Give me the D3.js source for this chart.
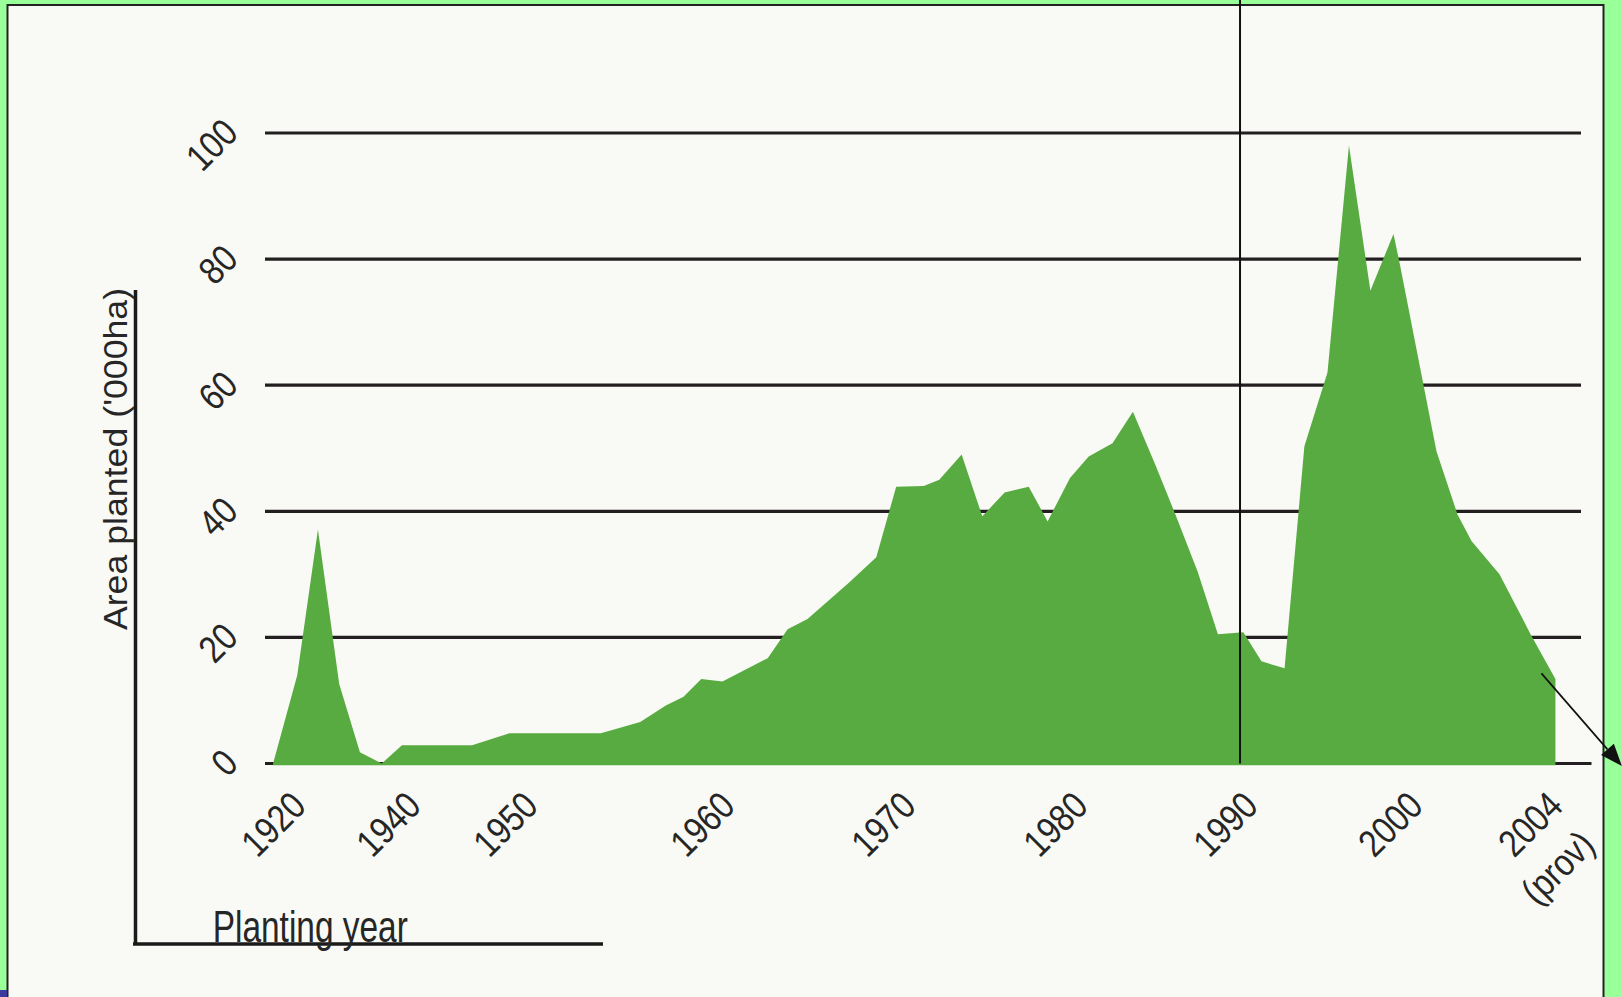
<!DOCTYPE html>
<html>
<head>
<meta charset="utf-8">
<script src="https://cdn.jsdelivr.net/npm/d3@7/dist/d3.min.js"></script>
<style>
  html, body { margin: 0; padding: 0; background: #99ff99; }
  svg { display: block; }
  text { font-family: "Liberation Sans", Arial, Helvetica, sans-serif; fill: #262626; }
</style>
</head>
<body>
<svg id="chart" width="1622" height="997"></svg>
<script>
// ---------------- DATA ----------------
// Planting year (as positioned on the chart's irregular axis) and area planted ('000 ha)
const plantingYears = [1917.4, 1921.6, 1925.2, 1928.9, 1932.5, 1936.3, 1939.8, 1945.9, 1949.1, 1954.1,
  1956.1, 1957.4, 1958.3, 1959.2, 1960.3, 1961.5, 1962.8, 1963.9, 1965.0, 1967.3,
  1968.8, 1969.9, 1971.5, 1972.4, 1973.7, 1974.9, 1976.2, 1977.6, 1978.7, 1980.0,
  1981.1, 1982.5, 1983.7, 1985.0, 1986.2, 1987.5, 1988.7, 1990.2, 1991.3, 1992.7,
  1993.9, 1995.3, 1996.6, 1997.9, 1999.3, 1999.7, 2000.9, 2001.5, 2001.9, 2002.7,
  2003.6, 2004.3];
const areaPlanted = [0, 14, 37.1, 12.6, 1.8, 0, 2.9, 2.9, 4.8, 4.8,
  6.6, 9.2, 10.6, 13.4, 13.0, 14.8, 16.7, 21.3, 22.9, 28.7,
  32.7, 43.9, 44.0, 45.0, 49.0, 39.2, 43.0, 43.9, 38.4, 45.3,
  48.7, 50.8, 55.8, 47.5, 39.5, 30.5, 20.5, 20.8, 16.2, 15.1,
  50.3, 62, 98, 75, 84, 79, 49.5, 39.5, 35.3, 30,
  20.4, 13.4];
const xTickYears = [1920, 1940, 1950, 1960, 1970, 1980, 1990, 2000, 2004];
const xTickLabels = [["1920"], ["1940"], ["1950"], ["1960"], ["1970"], ["1980"], ["1990"], ["2000"], ["2004", "(prov)"]];
const yTickValues = [0, 20, 40, 60, 80, 100];
const markerYear = 1990;
const yTitle = "Area planted ('000ha)";
const xTitle = "Planting year";
const arrowFrom = { year: 2003.9, v: 14.3 };
const arrowTo = { year: 2006.2, v: -0.4 };

// ---------------- LAYOUT ----------------
const W = 1622, H = 997;
const plotL = 265, plotR = 1581, zeroLineR = 1591.5;
const yBottom = 763.5, yTop = 133;
// the source chart's year axis is irregular: relative placement of each labelled year
const tickFrac = [0.0175, 0.1049, 0.1938, 0.3435, 0.4810, 0.6117, 0.7409, 0.8663, 0.9726];

const x = d3.scaleLinear()
  .domain(xTickYears)
  .range(tickFrac.map(f => plotL + f * (plotR - plotL)));
const y = d3.scaleLinear().domain([0, 100]).range([yBottom, yTop]);

const svg = d3.select("#chart");

// background frame
svg.append("rect").attr("x", 0).attr("y", 0).attr("width", W).attr("height", H).attr("fill", "#99ff99");
svg.append("rect").attr("x", 7.5).attr("y", 5).attr("width", 1596).attr("height", 1010)
  .attr("fill", "#f9faf5").attr("stroke", "#222").attr("stroke-width", 2);
svg.append("rect").attr("x", 0).attr("y", 990).attr("width", 7).attr("height", 7).attr("fill", "#3b3b9e");

// gridlines
svg.append("g").selectAll("line").data(yTickValues).join("line")
  .attr("x1", plotL)
  .attr("x2", d => d === 0 ? zeroLineR : plotR)
  .attr("y1", d => y(d)).attr("y2", d => y(d))
  .attr("stroke", "#231f20").attr("stroke-width", 3.2);

// area
const series = plantingYears.map((yr, i) => ({ year: yr, v: areaPlanted[i] }));
const area = d3.area()
  .x(d => x(d.year))
  .y0(y(0) + 1.7)
  .y1(d => y(d.v))
  .curve(d3.curveLinear);
svg.append("path").datum(series).attr("d", area).attr("fill", "#58ab40");

// 1990 marker line
svg.append("line")
  .attr("x1", x(markerYear)).attr("x2", x(markerYear))
  .attr("y1", 0).attr("y2", y(0))
  .attr("stroke", "#111").attr("stroke-width", 2);

// y tick labels (rotated, condensed)
const tickFont = 38, tickSX = 0.85;
svg.append("g").selectAll("text").data(yTickValues).join("text")
  .attr("transform", d => `translate(240,${y(d) + 2}) rotate(-45) scale(${tickSX},1)`)
  .attr("text-anchor", "end")
  .attr("font-size", tickFont)
  .text(d => d);

// x tick labels
const xl = svg.append("g").selectAll("text").data(xTickYears).join("text")
  .attr("transform", d => `translate(${x(d) + 20},808) rotate(-45) scale(${tickSX},1)`)
  .attr("text-anchor", "end")
  .attr("font-size", tickFont);
xl.each(function (d, i) {
  const t = d3.select(this);
  xTickLabels[i].forEach((line, j) => {
    t.append("tspan").attr("x", j === 0 ? 0 : -6).attr("dy", j === 0 ? 0 : 50).text(line);
  });
});

// axis L-shape at left / bottom
svg.append("path")
  .attr("d", "M135.5,290 L135.5,944 M133,944 L603,944")
  .attr("fill", "none").attr("stroke", "#1a1a1a").attr("stroke-width", 3.5);

// y title
svg.append("text")
  .attr("transform", "translate(127,459) rotate(-90) scale(1.05,1)")
  .attr("text-anchor", "middle")
  .attr("font-size", 34)
  .text(yTitle);

// x title
svg.append("text")
  .attr("transform", "translate(212.7,941.5) scale(0.76,1)")
  .attr("font-size", 44)
  .text(xTitle);

// arrow annotation
const ax1 = x(arrowFrom.year), ay1 = y(arrowFrom.v);
const ax2 = x(arrowTo.year), ay2 = y(arrowTo.v);
const ang = Math.atan2(ay2 - ay1, ax2 - ax1);
const hl = 22, hw = 8.5;
const bx = ax2 - hl * Math.cos(ang), by = ay2 - hl * Math.sin(ang);
svg.append("line").attr("x1", ax1).attr("y1", ay1).attr("x2", bx).attr("y2", by)
  .attr("stroke", "#111").attr("stroke-width", 1.7);
svg.append("polygon")
  .attr("points", [
    [ax2, ay2],
    [bx + hw * Math.sin(ang), by - hw * Math.cos(ang)],
    [bx - hw * Math.sin(ang), by + hw * Math.cos(ang)]
  ].map(p => p.join(",")).join(" "))
  .attr("fill", "#111");
</script>
</body>
</html>
